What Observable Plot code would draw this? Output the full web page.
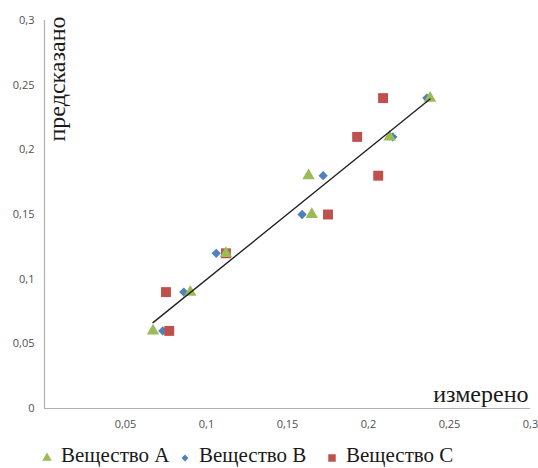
<!DOCTYPE html>
<html>
<head>
<meta charset="utf-8">
<script src="https://cdn.jsdelivr.net/npm/d3@7"></script>
<script src="https://cdn.jsdelivr.net/npm/@observablehq/plot@0.6"></script>
<style>
  html, body { margin: 0; padding: 0; background: #fff; }
  #chart { position: relative; width: 538px; height: 468px; }
  #legend { position: absolute; left: 0; top: 444px; height: 22px; width: 538px;
    font-family: "Liberation Serif", "Times New Roman", serif; font-size: 21px; color: #1a1a1a;
    line-height: 22px; white-space: nowrap; }
  .item { position: absolute; top: 0; display: flex; align-items: center; height: 22px; }
  .item svg { margin-right: 9px; }
</style>
</head>
<body>
<div id="chart"></div>
<script>
// ---- data ----
const seriesNames = ["Вещество A", "Вещество B", "Вещество C"];
const xA = [0.067, 0.090, 0.112, 0.163, 0.165, 0.213, 0.238];
const yA = [0.06, 0.09, 0.12, 0.18, 0.15, 0.21, 0.24];
const xB = [0.073, 0.086, 0.106, 0.159, 0.172, 0.215, 0.236];
const yB = [0.06, 0.09, 0.12, 0.15, 0.18, 0.21, 0.24];
const xC = [0.077, 0.075, 0.112, 0.175, 0.206, 0.193, 0.209];
const yC = [0.06, 0.09, 0.12, 0.15, 0.18, 0.21, 0.24];
const xTicks = [0.05, 0.1, 0.15, 0.2, 0.25, 0.3];
const yTicks = [0, 0.05, 0.1, 0.15, 0.2, 0.25, 0.3];
const xLabel = "измерено";
const yLabel = "предсказано";

const colors = ["#9BBB59", "#4F81BD", "#C0504D"];
const symbols = ["triangle", "diamond2", "square"];

const toRows = (xs, ys) => xs.map((x, i) => ({x, y: ys[i]}));
const A = toRows(xA, yA), B = toRows(xB, yB), C = toRows(xC, yC);
const fmt = d => String(d).replace(".", ",");

const tickFont = {fontFamily: "'Open Sans', sans-serif", fontSize: 11, fill: "#505050"};

const plot = Plot.plot({
  width: 538,
  height: 444,
  marginLeft: 44,
  marginRight: 8,
  marginTop: 20,
  marginBottom: 36,
  x: {domain: [0, 0.3]},
  y: {domain: [0, 0.3]},
  style: {background: "#fff", overflow: "visible"},
  marks: [
    Plot.ruleX([0], {stroke: "#b0b0b0", strokeWidth: 1.2}),
    Plot.ruleY([0], {stroke: "#b0b0b0", strokeWidth: 1.2}),
    Plot.axisX({ticks: xTicks, tickSize: 0, tickPadding: 12, tickFormat: fmt, label: null, ...tickFont}),
    Plot.axisY({ticks: yTicks, tickSize: 0, tickPadding: 10, tickFormat: fmt, label: null, ...tickFont}),
    Plot.dot(B, {x: "x", y: "y", symbol: symbols[1], fill: colors[1], r: 4.2}),
    Plot.dot(C, {x: "x", y: "y", symbol: symbols[2], fill: colors[2], r: 5.6}),
    Plot.dot(A, {x: "x", y: "y", symbol: symbols[0], fill: colors[0], r: 4.6}),
    Plot.linearRegressionY(A, {x: "x", y: "y", stroke: "#222", strokeWidth: 1.4, ci: 0}),
    Plot.text([yLabel], {text: d => d, frameAnchor: "top-left", rotate: -90, textAnchor: "end", lineAnchor: "bottom",
      dx: 20, dy: -4, fontFamily: "'Liberation Serif', serif", fontSize: 24, fill: "#1a1a1a"}),
    Plot.text([xLabel], {text: d => d, frameAnchor: "bottom-right", textAnchor: "end", lineAnchor: "bottom",
      dx: -2, dy: -7, fontFamily: "'Liberation Serif', serif", fontSize: 24, fill: "#1a1a1a"})
  ]
});
const chart = document.getElementById("chart");
chart.appendChild(plot);

// legend
const legend = document.createElement("div");
legend.id = "legend";
const lefts = [42, 180, 327];
const symMap = {triangle: d3.symbolTriangle, diamond2: d3.symbolDiamond2, square: d3.symbolSquare};
const sizes = [40, 30, 56];
seriesNames.forEach((name, i) => {
  const item = document.createElement("div");
  item.className = "item";
  item.style.left = lefts[i] + "px";
  const s = d3.create("svg").attr("width", 10).attr("height", 22);
  s.append("path").attr("transform", "translate(5,14)")
    .attr("d", d3.symbol(symMap[symbols[i]], sizes[i])()).attr("fill", colors[i]);
  item.appendChild(s.node());
  const span = document.createElement("span");
  span.textContent = name;
  item.appendChild(span);
  legend.appendChild(item);
});
chart.appendChild(legend);
</script>
</body>
</html>
